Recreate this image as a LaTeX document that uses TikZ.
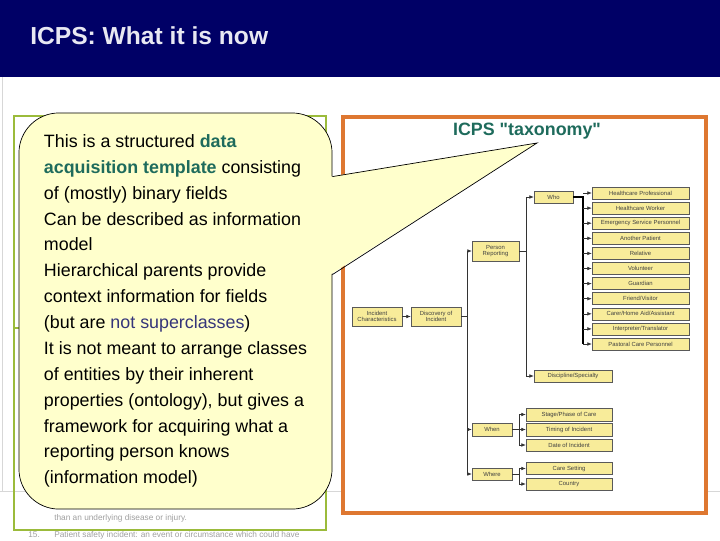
\documentclass[tikz,border=0pt]{standalone}
\usepackage{fontspec}
\setmainfont{Liberation Sans}
\newfontfamily\plainsans{Liberation Sans}[Ligatures=TeXOff]
\usepackage{xcolor}
\usepackage{tikz}
\usetikzlibrary{arrows.meta, positioning, calc}

\definecolor{hdrblue}{RGB}{0,0,102}
\definecolor{hdrtext}{RGB}{232,232,242}
\definecolor{greenframe}{RGB}{155,187,59}
\definecolor{orangeframe}{RGB}{222,119,49}
\definecolor{callfill}{RGB}{255,255,204}
\definecolor{tealtxt}{RGB}{30,107,92}
\definecolor{slatetxt}{RGB}{53,53,122}
\definecolor{treefill}{RGB}{248,236,154}
\definecolor{faintgray}{RGB}{215,215,215}

\begin{document}
\begin{tikzpicture}[
    x=0.025cm,
    y=-0.025cm,
    tbox/.style={rectangle, draw=gray!70!black, fill=treefill, line width=0.3pt,
                 inner sep=0.5pt, align=center, text=black!75,
                 font=\fontsize{4.2}{4.8}\selectfont},
    arr/.style={-{Latex[length=1.1mm, width=0.9mm]}, line width=0.4pt, color=black!80},
    note/.style={anchor=base west, inner sep=0pt, text=gray!75,
                 font=\fontsize{5.9}{7}\selectfont},
]
\useasboundingbox (0,0) rectangle (720,540);
\clip (0,0) rectangle (720,540);

\draw[faintgray, line width=0.6pt] (0,491) -- (343,491) (706,491) -- (720,491);
\draw[faintgray, line width=0.6pt] (2,77) -- (2,491);

\fill[hdrblue] (0,0) rectangle (720,77);
\node[anchor=west, inner sep=0pt, text=hdrtext, font=\fontsize{17.5}{20}\selectfont\bfseries]
    (hdr) at (30,36) {ICPS: What it is now};

\node[note] (n14)  at (27,495)  {14.};
\node[note] (l14a) at (54,495)  {Healthcare-associated harm: harm arising from or associated with};
\node[note] (l14b) at (54,507)  {plans or actions taken during the provision of healthcare, rather};
\node[note] (l14c) at (54,520)  {than an underlying disease or injury.};
\node[note] (n15)  at (28,537)  {15.};
\node[note] (l15)  at (54,537)  {Patient safety incident: an event or circumstance which could have};
\draw[greenframe, line width=2.1pt] (14,116) rectangle (326,530);
\draw[greenframe, line width=2.1pt] (14,328) -- (326,328);

\draw[orangeframe, line width=2.8pt] (343,117) rectangle (706,513);
\node[text=tealtxt, font=\plainsans\fontsize{12.7}{15}\selectfont\bfseries]
    (taxo) at (527,131) {ICPS "taxonomy"};

\node[tbox, minimum width=1.25cm, minimum height=0.475cm]  (ic)  at (377,316.5) {Incident\\Characteristics};
\node[tbox, minimum width=1.25cm, minimum height=0.475cm]  (dis) at (436,316.5) {Discovery of\\Incident};
\node[tbox, minimum width=1.175cm, minimum height=0.5cm]   (per) at (495.5,251) {Person\\Reporting};
\node[tbox, minimum width=0.975cm, minimum height=0.3cm]   (who) at (553.5,197) {Who};
\node[tbox, minimum width=1.95cm, minimum height=0.3cm]    (dsc) at (573,376) {Discipline/Specialty};
\node[tbox, minimum width=1.0cm, minimum height=0.325cm]   (when) at (492,429.5) {When};
\node[tbox, minimum width=1.0cm, minimum height=0.3cm]     (where) at (492,474) {Where};
\node[tbox, minimum width=2.15cm, minimum height=0.325cm]  (stage) at (569,414.5) {Stage/Phase of Care};
\node[tbox, minimum width=2.15cm, minimum height=0.325cm]  (timing) at (569,429.5) {Timing of Incident};
\node[tbox, minimum width=2.15cm, minimum height=0.3cm]    (date) at (569,445) {Date of Incident};
\node[tbox, minimum width=2.15cm, minimum height=0.3cm]    (setting) at (569,468.5) {Care Setting};
\node[tbox, minimum width=2.15cm, minimum height=0.3cm]    (country) at (569,484) {Country};
\foreach \lab [count=\i] in {Healthcare Professional, Healthcare Worker,
    Emergency Service Personnel, Another Patient, Relative, Volunteer, Guardian,
    Friend/Visitor, Carer/Home Aid/Assistant, Interpreter/Translator,
    Pastoral Care Personnel}
  \node[tbox, minimum width=2.425cm, minimum height=0.3cm] (r\i) at (640.5,177.9+15.1*\i) {\lab};

\draw[arr] (ic.east) -- (dis.east -| dis.west);
\draw[arr] (dis.east) -- ++(6,0) |- (per.west);
\draw[arr] (dis.east) -- ++(6,0) |- (when.west);
\draw[arr] (dis.east) -- ++(6,0) |- (where.west);
\draw[arr] (per.east) -- ++(7,0) |- (who.west);
\draw[arr] (per.east) -- ++(7,0) |- (dsc.west);
\draw[line width=1.2pt] (who.east) -- ++(10,0) coordinate (wj) -- (wj |- r11.west);
\foreach \i in {1,...,11}
  \draw[arr] (wj |- r\i.west) -- (r\i.west);
\draw[arr] (when.east) -- ++(7,0) |- (stage.west);
\draw[arr] (when.east) -- ++(7,0) |- (timing.west);
\draw[arr] (when.east) -- ++(7,0) |- (date.west);
\draw[arr] (where.east) -- ++(7,0) |- (setting.west);
\draw[arr] (where.east) -- ++(7,0) |- (country.west);

\node[rectangle, draw=black, line width=0.5pt, fill=callfill, rounded corners=1cm,
      minimum width=7.825cm, minimum height=9.9cm, inner sep=0pt, align=left,
      font=\fontsize{12.7}{18.4}\selectfont] (callout) at (175.5,311)
  {This is a structured {\bfseries\color{tealtxt}data}\\
   {\bfseries\color{tealtxt}acquisition template} consisting\\
   of (mostly) binary fields\\
   Can be described as information\\
   model\\
   Hierarchical parents provide\\
   context information for fields\\
   (but are {\color{slatetxt}not superclasses})\\
   It is not meant to arrange classes\\
   of entities by their inherent\\
   properties (ontology), but gives a\\
   framework for acquiring what a\\
   reporting person knows\\
   (information model)};
\coordinate (tip) at (537,143);
\fill[callfill] ($(callout.north east)+(-2,64)$) -- (tip) -- ($(callout.north east)+(-2,162)$) -- cycle;
\draw[line width=0.5pt] ($(callout.north east)+(0,64)$) -- (tip) -- ($(callout.north east)+(0,162)$);
\end{tikzpicture}
\end{document}
